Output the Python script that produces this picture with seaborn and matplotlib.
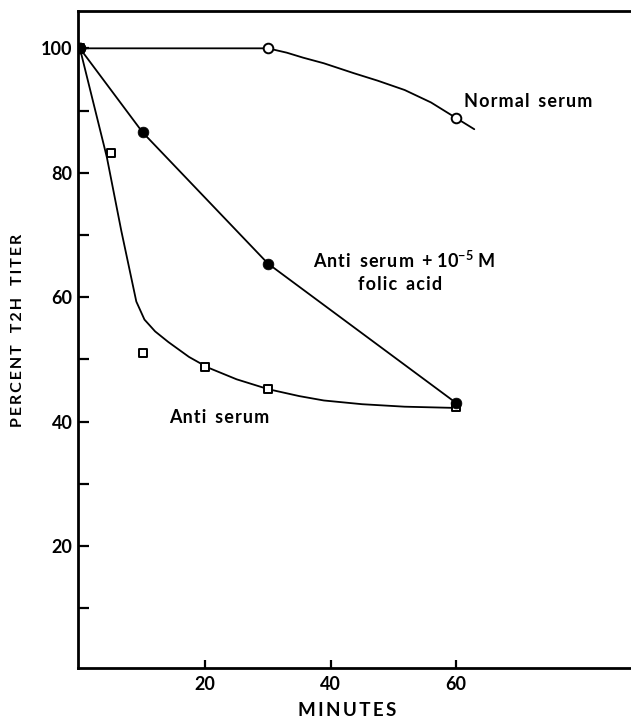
import matplotlib
matplotlib.use("Agg")
import matplotlib.pyplot as plt
import seaborn as sns

# Percent T2H titer remaining after incubation (minutes)
normal_min = [0, 30, 60]
normal_pct = [100, 100, 88.8]

folic_min = [0, 10, 30, 60]
folic_pct = [100, 86.5, 65.4, 43.0]

anti_min = [0, 5, 10, 20, 30, 60]
anti_pct = [100, 83.2, 51.1, 48.7, 45.2, 42.3]

# Hand-drawn fitted curves through the data
normal_fit_min = [0, 30, 33, 35.6, 38.9, 43.7, 47.5, 51.8, 56, 60, 62.9]
normal_fit_pct = [100, 100, 99.3, 98.5, 97.6, 96.0, 94.8, 93.3, 91.3, 88.8, 87.0]

anti_fit_min = [0, 4.3, 6.6, 9.0, 10.3, 12.0, 14.1, 17.4, 20.4, 25, 30.1, 35, 38.9, 45, 51.8, 60]
anti_fit_pct = [100, 82.5, 70.7, 59.3, 56.4, 54.5, 52.8, 50.4, 48.7, 46.8, 45.2, 44.1, 43.4, 42.8, 42.4, 42.2]

y_major = [20, 40, 60, 80, 100]
y_minor = [10, 30, 50, 70, 90]
x_major = [20, 40, 60]

sns.set_theme(style="white")
plt.rcParams["font.family"] = ["Lato", "DejaVu Sans"]
plt.rcParams["text.color"] = "black"
plt.rcParams["xtick.color"] = "black"
plt.rcParams["ytick.color"] = "black"
plt.rcParams["mathtext.fontset"] = "custom"
plt.rcParams["mathtext.rm"] = "Lato:bold"
plt.rcParams["mathtext.bf"] = "Lato:bold"
plt.rcParams["mathtext.it"] = "Lato:bold"
plt.rcParams["mathtext.default"] = "rm"


def spaced(text, gap="\u200a", word_gap="  "):
    """Letter-spaced text: a narrow space between letters, wider gap between words."""
    words = text.split(" ")
    return word_gap.join(gap.join(w) for w in words)


fig = plt.figure(figsize=(6.31, 7.18), dpi=100)
ax = fig.add_axes([78 / 631, 50 / 718, 1 - 78 / 631 + 0.01, 657 / 718])

lw = 1.3
sns.lineplot(x=normal_fit_min, y=normal_fit_pct, sort=False, color="black", lw=lw, ax=ax)
sns.lineplot(x=folic_min, y=folic_pct, sort=False, color="black", lw=lw, ax=ax)
sns.lineplot(x=anti_fit_min, y=anti_fit_pct, sort=False, color="black", lw=lw, ax=ax)

sns.scatterplot(x=anti_min, y=anti_pct, marker="s", s=36, facecolor="white",
                edgecolor="black", linewidth=1.4, ax=ax, zorder=3)
sns.scatterplot(x=normal_min, y=normal_pct, marker="o", s=48, facecolor="white",
                edgecolor="black", linewidth=1.4, ax=ax, zorder=3)
sns.scatterplot(x=folic_min, y=folic_pct, marker="o", s=60, color="black",
                edgecolor="black", linewidth=0.5, ax=ax, zorder=4)

ax.set_xlim(-0.3, 88.9)
ax.set_ylim(0.4, 106)

for side in ["left", "bottom", "top"]:
    ax.spines[side].set_visible(True)
    ax.spines[side].set_color("black")
    ax.spines[side].set_linewidth(2.0)
ax.spines["right"].set_visible(False)

ax.set_xticks(x_major)
ax.set_xticklabels([str(v) for v in x_major])
ax.set_yticks(y_major)
ax.set_yticklabels([str(v) for v in y_major])
ax.set_yticks(y_minor, minor=True)
ax.tick_params(axis="y", which="both", direction="in", length=8, width=1.6,
               left=True, pad=4, labelsize=13)
ax.tick_params(axis="x", which="major", direction="in", length=6, width=1.6,
               bottom=True, pad=6, labelsize=13)
for lab in ax.get_xticklabels() + ax.get_yticklabels():
    lab.set_fontweight("bold")
ax.set_xlabel("")
ax.set_ylabel("")
ax.grid(False)

txt = dict(fontsize=13, fontweight="bold", color="black")
ax.text(61.3, 91.5, spaced("Normal serum"), ha="left", va="center", **txt)
ax.text(37.2, 66.0, spaced("Anti serum +") + " 10$^{-5}$ M", ha="left", va="center", **txt)
ax.text(51.0, 62.1, spaced("folic acid"), ha="center", va="center", **txt)
ax.text(14.3, 40.6, spaced("Anti serum"), ha="left", va="center", **txt)

fig.text(18 / 631, 1 - 330 / 718, spaced("PERCENT T2H TITER", "\u2009", "\u2003"),
         rotation=90, ha="center", va="center", fontsize=11.5, fontweight="bold")
fig.text(347 / 631, 1 - 710 / 718, spaced("MINUTES", "\u2009"),
         ha="center", va="center", fontsize=13.5, fontweight="bold")

fig.savefig("out.png", dpi=100, facecolor="white")
